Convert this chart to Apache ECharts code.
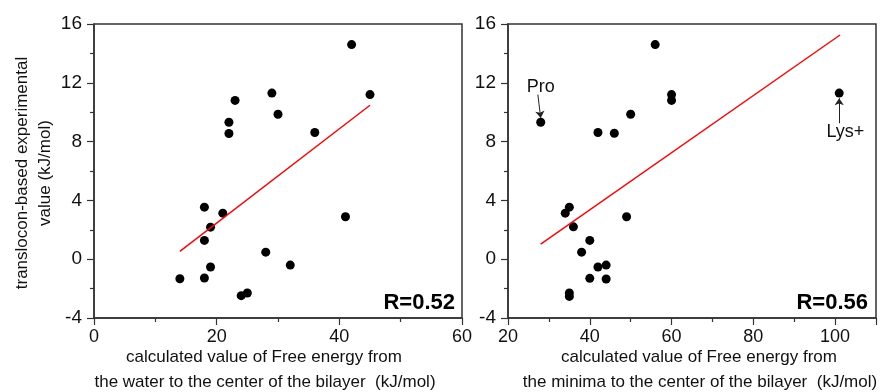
<!DOCTYPE html>
<html>
<head>
<meta charset="utf-8">
<script src="https://cdn.jsdelivr.net/npm/echarts@6/dist/echarts.min.js"></script>
<style>
  html, body { margin: 0; padding: 0; background: #fff; }
  #main { width: 896px; height: 392px; }
</style>
</head>
<body>
<div id="main"></div>
<script>
// left panel: water -> bilayer center
var leftX = [42, 45, 29, 23, 30, 22, 22, 36, 18, 21, 19, 18, 41, 28, 19, 32, 14, 18, 24, 25];
var leftY = [14.6, 11.2, 11.3, 10.8, 9.86, 9.32, 8.55, 8.62, 3.54, 3.13, 2.18, 1.28, 2.89, 0.48, -0.53, -0.4, -1.33, -1.28, -2.48, -2.3];
var leftFitX = [14, 45];
var leftFitY = [0.53, 10.47];

// right panel: minima -> bilayer center
var rightX = [28, 56, 60, 60, 50, 42, 46, 101, 35, 34, 36, 49, 40, 38, 42, 44, 40, 44, 35, 35];
var rightY = [9.32, 14.6, 11.2, 10.8, 9.86, 8.62, 8.57, 11.3, 3.54, 3.13, 2.2, 2.89, 1.28, 0.48, -0.53, -0.4, -1.3, -1.35, -2.3, -2.53];
var rightFitX = [28, 101.2];
var rightFitY = [1.03, 15.25];

var yTicks = [-4, 0, 4, 8, 12, 16];

function pairs(xs, ys) {
    var out = [];
    for (let i = 0; i < xs.length; i++) {
        out.push([xs[i], ys[i]]);
    }
    return out;
}

var myChart = echarts.init(document.getElementById('main'));

var axisLine = { onZero: false, lineStyle: { color: '#333', width: 1.5 } };
var tick = { length: 7, lineStyle: { color: '#333', width: 1.2 } };
var minor = { show: true, splitNumber: 2, length: 4, lineStyle: { color: '#333', width: 1.2 } };

function xAxisOf(idx, min, max) {
    return {
        type: 'value', gridIndex: idx, min: min, max: max, interval: 20,
        axisLine: axisLine, axisTick: tick, minorTick: minor,
        splitLine: { show: false },
        axisLabel: {
            color: '#111', fontSize: 18, fontFamily: 'Liberation Sans', margin: 10,
            formatter: function (v) { return v > 100 ? '' : v; }
        }
    };
}

function yAxisOf(idx) {
    return {
        type: 'value', gridIndex: idx, min: yTicks[0], max: yTicks[yTicks.length - 1], interval: 4,
        axisLine: axisLine, axisTick: tick, minorTick: minor,
        splitLine: { show: false },
        axisLabel: { color: '#111', fontSize: 19, fontFamily: 'Liberation Sans', margin: 12 }
    };
}

var dot = { color: '#000', opacity: 1 };
var fitLine = { color: '#ff0000', width: 1.4 };
var txt = { fill: '#111', fontFamily: 'Liberation Sans', fontSize: 17 };

var option = {
    animation: false,
    grid: [
        { left: 94, top: 24, width: 368, height: 294, show: true, borderColor: '#333', borderWidth: 1.5 },
        { left: 508, top: 24, width: 368, height: 294, show: true, borderColor: '#333', borderWidth: 1.5 }
    ],
    xAxis: [xAxisOf(0, 0, 60), xAxisOf(1, 20, 110)],
    yAxis: [yAxisOf(0), yAxisOf(1)],
    series: [
        {
            type: 'scatter', xAxisIndex: 0, yAxisIndex: 0, symbolSize: 9,
            itemStyle: dot, data: pairs(leftX, leftY)
        },
        {
            type: 'line', xAxisIndex: 0, yAxisIndex: 0, symbol: 'none',
            lineStyle: fitLine, data: pairs(leftFitX, leftFitY)
        },
        {
            type: 'scatter', xAxisIndex: 1, yAxisIndex: 1, symbolSize: 9,
            itemStyle: dot, data: pairs(rightX, rightY),
            markLine: {
                silent: true,
                symbol: ['none', 'arrow'],
                symbolSize: 7,
                lineStyle: { color: '#222', width: 1, type: 'solid' },
                label: { show: false },
                data: [
                    [{ coord: [27.3, 11.2] }, { coord: [28, 9.6] }],
                    [{ coord: [101, 9.25] }, { coord: [101, 10.95] }]
                ]
            },
            markPoint: {
                silent: true,
                symbol: 'circle',
                symbolSize: 0.1,
                label: { show: true, position: 'inside', formatter: '{b}', color: '#111', fontSize: 18, fontFamily: 'Liberation Sans' },
                data: [
                    { name: 'Pro', coord: [28, 11.72] },
                    { name: 'Lys+', coord: [102.5, 8.66] }
                ]
            }
        },
        {
            type: 'line', xAxisIndex: 1, yAxisIndex: 1, symbol: 'none',
            lineStyle: fitLine, data: pairs(rightFitX, rightFitY)
        }
    ],
    graphic: [
        { type: 'text', x: 455, y: 303, style: Object.assign({}, txt, { text: 'R=0.52', fontSize: 22, fontWeight: 'bold', fill: '#000', align: 'right', verticalAlign: 'middle' }) },
        { type: 'text', x: 868, y: 303, style: Object.assign({}, txt, { text: 'R=0.56', fontSize: 22, fontWeight: 'bold', fill: '#000', align: 'right', verticalAlign: 'middle' }) },
        { type: 'text', x: 264, y: 357, style: Object.assign({}, txt, { text: 'calculated value of Free energy from', align: 'center', verticalAlign: 'middle' }) },
        { type: 'text', x: 265, y: 382, style: Object.assign({}, txt, { text: 'the water to the center of the bilayer  (kJ/mol)', align: 'center', verticalAlign: 'middle' }) },
        { type: 'text', x: 699, y: 357, style: Object.assign({}, txt, { text: 'calculated value of Free energy from', align: 'center', verticalAlign: 'middle' }) },
        { type: 'text', x: 700, y: 382, style: Object.assign({}, txt, { text: 'the minima to the center of the bilayer  (kJ/mol)', align: 'center', verticalAlign: 'middle' }) },
        { type: 'text', x: 22, y: 173, rotation: Math.PI / 2, style: Object.assign({}, txt, { text: 'translocon-based experimental', fontSize: 17, align: 'center', verticalAlign: 'middle' }) },
        { type: 'text', x: 45, y: 173, rotation: Math.PI / 2, style: Object.assign({}, txt, { text: 'value (kJ/mol)', fontSize: 17, align: 'center', verticalAlign: 'middle' }) }
    ]
};

option && myChart.setOption(option);
window.onresize = myChart.resize;
</script>
</body>
</html>
